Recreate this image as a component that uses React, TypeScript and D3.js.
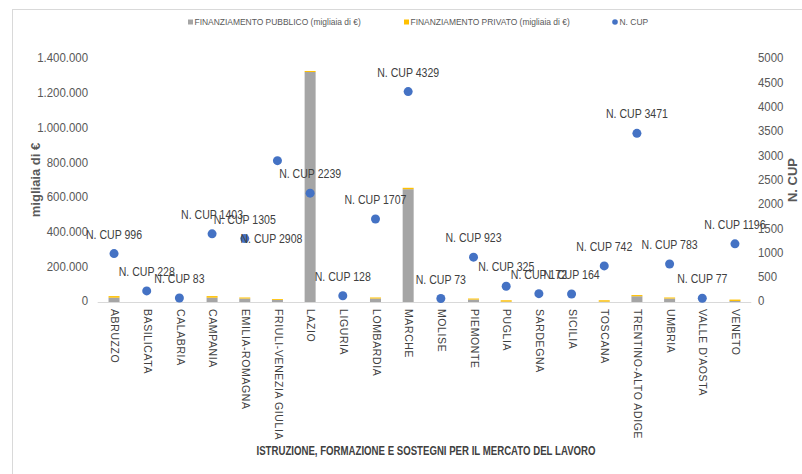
import React from "react";
import * as d3 from "d3";

const categories = [
  "ABRUZZO", "BASILICATA", "CALABRIA", "CAMPANIA", "EMILIA-ROMAGNA",
  "FRIULI-VENEZIA GIULIA", "LAZIO", "LIGURIA", "LOMBARDIA", "MARCHE",
  "MOLISE", "PIEMONTE", "PUGLIA", "SARDEGNA", "SICILIA", "TOSCANA",
  "TRENTINO-ALTO ADIGE", "UMBRIA", "VALLE D'AOSTA", "VENETO",
];
const pubblico = [
  25000, 0, 0, 25000, 20000, 12000, 1325000, 0, 20000, 650000,
  0, 14000, 2000, 0, 0, 2000, 33000, 20000, 0, 6000,
];
const privato = [
  9000, 0, 0, 9000, 6000, 5000, 6000, 0, 6000, 8000,
  0, 6000, 8000, 0, 0, 8000, 7000, 6000, 0, 8000,
];
const nCup = [
  996, 228, 83, 1403, 1305, 2908, 2239, 128, 1707, 4329,
  73, 923, 325, 172, 164, 742, 3471, 783, 77, 1196,
];
const leftTicks = [0, 200000, 400000, 600000, 800000, 1000000, 1200000, 1400000];
const rightTicks = [0, 500, 1000, 1500, 2000, 2500, 3000, 3500, 4000, 4500, 5000];

const legendLabels = [
  "FINANZIAMENTO PUBBLICO (migliaia di €)",
  "FINANZIAMENTO PRIVATO (migliaia di €)",
  "N. CUP",
];
const xTitle = "ISTRUZIONE, FORMAZIONE E SOSTEGNI PER IL MERCATO DEL LAVORO";

// label placement quirk (Excel placed this one below its point)
const labelOffsets: Record<string, [number, number]> = {
  "FRIULI-VENEZIA GIULIA": [-6, 79],
};

const GRAY = "#A5A5A5";
const GOLD = "#FFC000";
const BLUE = "#4472C4";
const FONT = "'Liberation Sans', Arial, sans-serif";
const SX = 0.88;

const fmtIt = (v: number) =>
  v === 0 ? "0" : d3.format(",")(v).replace(/,/g, ".");

function T(props: {
  x: number; y: number; size: number; anchor?: string; fill?: string;
  weight?: string; children: React.ReactNode;
}) {
  const { x, y, size, anchor = "start", fill = "#595959", weight = "normal", children } = props;
  return (
    <text transform={`translate(${x},${y}) scale(${SX},1)`} textAnchor={anchor}
      dominantBaseline="middle" fontSize={size} fill={fill} fontWeight={weight}>{children}</text>
  );
}

export default function App() {
  const W = 802, H = 474;
  const plotLeft = 97.7, plotRight = 751.3, plotTop = 59, plotBottom = 302;

  const x = d3.scaleBand<string>().domain(categories).range([plotLeft, plotRight]).padding(0);
  const yL = d3.scaleLinear().domain([0, 1400000]).range([plotBottom, plotTop]);
  const yR = d3.scaleLinear().domain([0, 5000]).range([plotBottom, plotTop]);
  const barW = 11;

  return (
    <svg width={W} height={H} style={{ position: "absolute", left: 0, top: 0, background: "#fff" }} fontFamily={FONT}>
      <rect x={0} y={0} width={W} height={H} fill="#fff" />
      <rect x={12.5} y={9.5} width={W} height={H} fill="none" stroke="#D9D9D9" />

      {/* legend */}
      <rect x={188} y={19.5} width={5} height={5} fill={GRAY} />
      <T x={194.5} y={22.5} size={9.6}>{legendLabels[0]}</T>
      <rect x={404} y={19.5} width={5} height={5} fill={GOLD} />
      <T x={410.5} y={22.5} size={9.6}>{legendLabels[1]}</T>
      <circle cx={615} cy={22} r={2.8} fill={BLUE} />
      <T x={619.5} y={22.5} size={9.6}>{legendLabels[2]}</T>

      {/* axis ticks */}
      {leftTicks.map((t) => (
        <T key={"l" + t} x={88} y={yL(t)} size={13} anchor="end">{fmtIt(t)}</T>
      ))}
      {rightTicks.map((t) => (
        <T key={"r" + t} x={758} y={yR(t)} size={13}>{t}</T>
      ))}

      {/* axis titles */}
      <text transform={`translate(37,180) rotate(-90)`} textAnchor="middle" dominantBaseline="middle"
        fontSize={13} fontWeight="bold" fill="#595959">migliaia di €</text>
      <text transform={`translate(794,180) rotate(-90)`} textAnchor="middle" dominantBaseline="middle"
        fontSize={13} fontWeight="bold" fill="#595959">N. CUP</text>

      {/* bars */}
      {categories.map((c, i) => {
        const cx = x(c)! + x.bandwidth() / 2;
        const p = pubblico[i], q = privato[i];
        return (
          <g key={c}>
            {p > 0 && <rect x={cx - barW / 2} y={yL(p)} width={barW} height={yL(0) - yL(p)} fill={GRAY} />}
            {q > 0 && <rect x={cx - barW / 2} y={yL(p + q)} width={barW} height={yL(p) - yL(p + q)} fill={GOLD} />}
          </g>
        );
      })}

      {/* x axis line */}
      <line x1={plotLeft} x2={plotRight} y1={plotBottom + 0.5} y2={plotBottom + 0.5} stroke="#D9D9D9" strokeWidth={1} />

      {/* dots + labels */}
      {categories.map((c, i) => {
        const cx = x(c)! + x.bandwidth() / 2;
        const cy = yR(nCup[i]);
        const off = labelOffsets[c] || [0, -18];
        return (
          <g key={c}>
            <circle cx={cx} cy={cy} r={4.5} fill={BLUE} />
            <T x={cx + off[0]} y={cy + off[1]} size={12} anchor="middle" fill="#404040">{`N. CUP ${nCup[i]}`}</T>
          </g>
        );
      })}

      {/* category labels */}
      {categories.map((c) => {
        const cx = x(c)! + x.bandwidth() / 2;
        return (
          <text key={c} transform={`translate(${cx},309) rotate(90)`} dominantBaseline="middle"
            fontSize={10.5} letterSpacing={0.6} fill="#404040">{c}</text>
        );
      })}

      <text x={426} y={452} textAnchor="middle" dominantBaseline="middle" fontSize={12} fontWeight="bold"
        fill="#404040" textLength={339} lengthAdjust="spacingAndGlyphs">{xTitle}</text>
    </svg>
  );
}
